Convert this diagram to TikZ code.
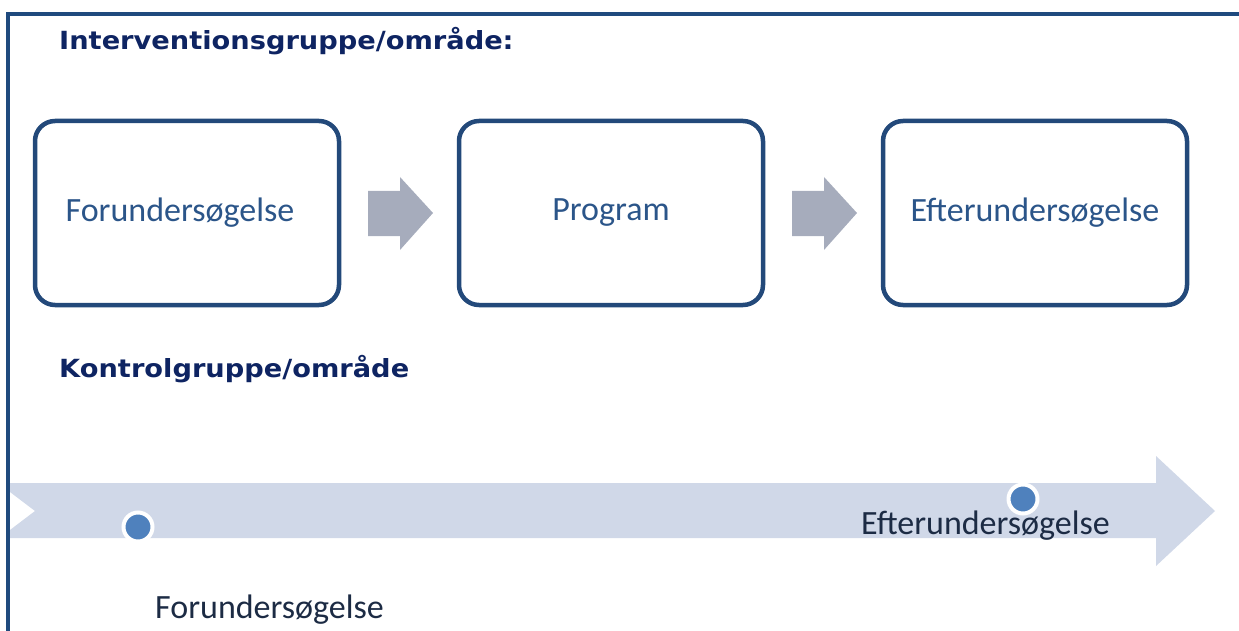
\documentclass[tikz,border=0pt]{standalone}
\usepackage{fontspec}
\setmainfont{Carlito}
\newfontfamily\hdfont{DejaVu Sans}
\definecolor{frameblue}{HTML}{1F4A7E}
\definecolor{boxblue}{HTML}{23497A}
\definecolor{boxtext}{HTML}{2B5589}
\definecolor{headblue}{HTML}{0E2462}
\definecolor{chev}{HTML}{A6ACBC}
\definecolor{band}{HTML}{D0D8E8}
\definecolor{dotblue}{HTML}{4F81BD}
\definecolor{darktext}{HTML}{1C2B44}
\begin{document}
\begin{tikzpicture}[x=1pt,y=-1pt,
  stage/.style={draw=boxblue,line width=4.5pt,rounded corners=20pt,minimum width=304pt,minimum height=184pt,inner sep=0pt,text=boxtext,font=\fontsize{34}{40}\selectfont},
  header/.style={anchor=base west,inner sep=0pt,text=headblue,font=\hdfont\bfseries\fontsize{25}{30}\selectfont},
  lbl/.style={anchor=base west,inner sep=0pt,text=darktext,font=\fontsize{34}{40}\selectfont},
  dot/.style={circle,fill=dotblue,draw=white,line width=4pt,minimum size=29pt,inner sep=0pt},
  chevron/.style={fill=chev}]
\useasboundingbox (0,0) rectangle (1239,631);
% frame
\draw[frameblue,line width=3.6pt] (8,631) -- (8,14) -- (1239,14);
% headers
\node[header] (h1) at (59,50) {\scalebox{1.09}[1]{Interventionsgruppe/område:}};
\node[header] (h2) at (59,377) {\scalebox{1.09}[1]{Kontrolgruppe/område}};
% stage boxes
\node[stage] (b1) at (187,213) {\raisebox{-2pt}{\hspace*{-14pt}Forundersøgelse}};
\node[stage] (b2) at (611,213) {\raisebox{-2pt}{Program}};
\node[stage] (b3) at (1035,213) {\raisebox{-2pt}{Efterundersøgelse}};
% chevron arrows between boxes
\fill[chevron] (368,191) -- (400,191) -- (400,177) -- (433,213) -- (400,250) -- (400,236) -- (368,236) -- cycle;
\fill[chevron] (792,191) -- (824,191) -- (824,177) -- (857,213) -- (824,250) -- (824,236) -- (792,236) -- cycle;
% timeline band
\fill[band] (6,483) -- (1156,483) -- (1156,456) -- (1215,511) -- (1156,566) -- (1156,538) -- (6,538) -- (6,533) -- (35,511) -- (6,489) -- cycle;
\draw[frameblue,line width=3.6pt] (8,470) -- (8,560);
% dots and labels
\node[dot] (d1) at (138,527) {};
\node[dot] (d2) at (1023,499) {};
\node[lbl] (t1) at (155,618) {Forundersøgelse};
\node[lbl] (t2) at (861,534) {Efterundersøgelse};
\end{tikzpicture}
\end{document}
